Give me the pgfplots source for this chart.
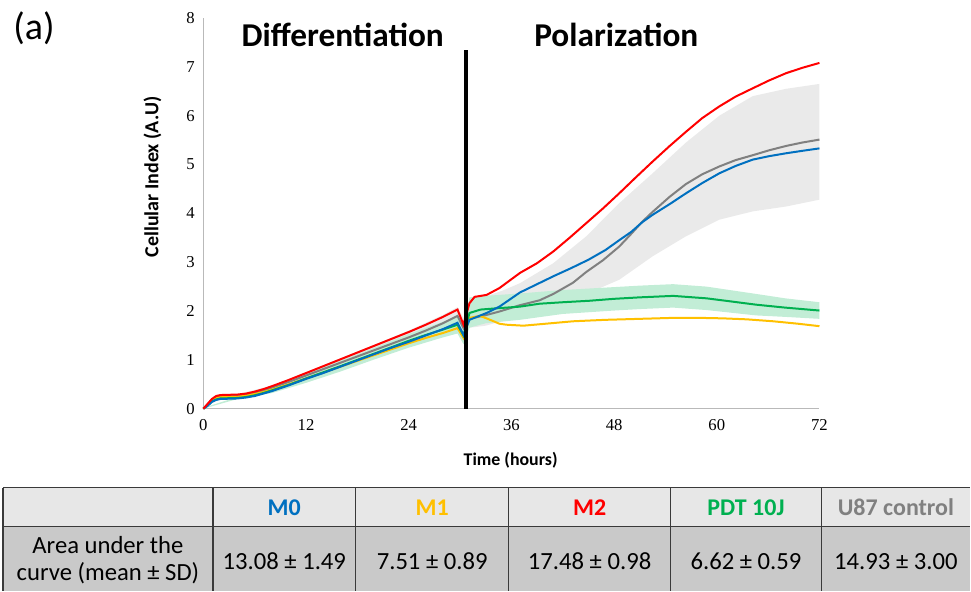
\documentclass[border=0pt]{standalone}
\usepackage{pgfplots}
\pgfplotsset{compat=1.18}
\usepgfplotslibrary{fillbetween}
\usepackage{fontspec}
\setmainfont{Carlito}
\newfontfamily\tnr{Liberation Serif}
\definecolor{cM0}{HTML}{0070C0}
\definecolor{cM1}{HTML}{FFC000}
\definecolor{cM2}{HTML}{FF0000}
\definecolor{cPDT}{HTML}{00B050}
\definecolor{cU87}{HTML}{808080}
\definecolor{gband}{HTML}{EAEAEA}
\definecolor{pband}{HTML}{C2EDD6}
\definecolor{hdr}{HTML}{E7E7E7}
\definecolor{bdy}{HTML}{C9C9C9}
\definecolor{tline}{HTML}{3A3A3A}
\begin{document}
\begin{tikzpicture}
\path (0,0) rectangle (728.25pt,443.25pt);
\begin{axis}[
  at={(152.625pt,136.5pt)}, anchor=south west,
  scale only axis, width=462.4pt, height=293.25pt,
  xmin=0, xmax=72, ymin=0, ymax=8,
  xtick={0,12,24,36,48,60,72}, ytick={0,1,2,3,4,5,6,7,8},
  major tick length=0pt,
  axis x line*=bottom, axis y line*=left,
  axis line style={draw=gray!55, line width=0.8pt, -},
  tick label style={font=\tnr\fontsize{12.5}{13}\selectfont},
  /pgf/number format/assume math mode=true,
  xticklabel style={yshift=-4.5pt},
  yticklabel style={xshift=-3pt},
  clip=false,
]
% U87 band
\addplot[name path=gu, draw=none, forget plot] coordinates {
(0,0.02) (2,0.28) (4,0.30) (8,0.47) (12,0.75) (16,1.03) (20,1.31) (24,1.60) (28,1.92) (29.7,2.08) (30.4,1.85) (30.8,2.05) (33,2.30) (35,2.42) (37,2.57) (40.9,2.98) (44.75,3.53) (48.6,4.21) (52.5,4.82) (56.4,5.45) (60.3,6.00) (64.2,6.40) (68.1,6.55) (72,6.65)};
\addplot[name path=gl, draw=none, forget plot] coordinates {
(0,0) (2,0.22) (4,0.22) (8,0.39) (12,0.61) (16,0.85) (20,1.09) (24,1.32) (28,1.58) (29.7,1.72) (30.4,1.45) (30.8,1.65) (33,1.70) (35,1.80) (37,1.90) (40.9,2.10) (44.75,2.35) (48.6,2.64) (52.5,3.12) (56.4,3.53) (60.3,3.87) (64.2,4.04) (68.1,4.14) (72,4.28)};
\addplot[fill=gband, draw=none, forget plot] fill between[of=gu and gl];
% PDT band
\addplot[name path=pu, draw=none, forget plot] coordinates {
(0,0.02) (4,0.24) (8,0.43) (12,0.71) (16,0.98) (20,1.25) (24,1.53) (28,1.78) (29.7,1.90) (30.4,1.70) (31.1,2.28) (33,2.31) (37,2.36) (42,2.43) (48,2.49) (51,2.52) (54.9,2.55) (58.8,2.50) (64.6,2.35) (68,2.26) (72,2.18)};
\addplot[name path=pl, draw=none, forget plot] coordinates {
(0,0) (4,0.20) (8,0.32) (12,0.53) (16,0.76) (20,1.01) (24,1.25) (28,1.46) (29.7,1.54) (30.4,1.32) (31.1,1.66) (33,1.75) (37,1.82) (42,1.94) (48,2.01) (51,2.04) (54.9,2.07) (58.8,2.02) (64.6,1.91) (68,1.88) (72,1.84)};
\addplot[fill=pband, draw=none, forget plot] fill between[of=pu and pl];
% U87 control
\addplot[cU87, line width=1.5pt] coordinates {
(0,0) (0.5,0.09) (1,0.18) (1.5,0.23) (2,0.25) (3,0.255) (4,0.26) (5,0.28) (6,0.32) (7,0.37) (8,0.43) (10,0.55) (12,0.68) (14,0.81) (16,0.94) (18,1.07) (20,1.20) (22,1.33) (24,1.46) (26,1.60) (28,1.75) (29.7,1.90) (30.4,1.65) (31.1,1.84) (33.1,1.92) (34.6,1.99) (37,2.12) (39.3,2.22) (40.9,2.35) (43.2,2.58) (44.75,2.80) (46.7,3.04) (48.6,3.32) (50,3.58) (51.3,3.83) (52.5,4.03) (54.5,4.34) (56.4,4.60) (58.3,4.80) (60.3,4.96) (62.2,5.09) (64.2,5.19) (66.1,5.29) (68.1,5.38) (70,5.45) (72,5.51)};
% M1
\addplot[cM1, line width=1.5pt] coordinates {
(0,0) (0.5,0.08) (1,0.17) (1.5,0.22) (2,0.235) (3,0.24) (4,0.245) (5,0.265) (6,0.30) (7,0.34) (8,0.39) (10,0.50) (12,0.62) (14,0.74) (16,0.86) (18,0.98) (20,1.10) (22,1.22) (24,1.34) (26,1.45) (28,1.55) (29.7,1.65) (30.4,1.45) (31.1,1.86) (32.3,1.90) (33.1,1.85) (34.6,1.74) (35.4,1.72) (37.4,1.70) (40,1.74) (43.2,1.79) (47,1.82) (51,1.84) (54.9,1.86) (58,1.86) (60.7,1.85) (63.5,1.83) (66.6,1.79) (69.5,1.74) (72,1.69)};
% PDT 10J
\addplot[cPDT, line width=1.5pt] coordinates {
(0,0) (0.5,0.07) (1,0.15) (1.5,0.19) (2,0.21) (3,0.215) (4,0.22) (5,0.24) (6,0.275) (7,0.32) (8,0.375) (10,0.49) (12,0.62) (14,0.745) (16,0.87) (18,1.0) (20,1.13) (22,1.26) (24,1.39) (26,1.51) (28,1.62) (29.7,1.72) (30.4,1.50) (31.1,1.96) (32.4,2.03) (34.6,2.06) (37,2.09) (39.3,2.15) (42,2.18) (45.1,2.21) (48,2.25) (51,2.28) (54.9,2.31) (58.8,2.26) (61.5,2.20) (64.6,2.13) (68,2.07) (72,2.01)};
% M0
\addplot[cM0, line width=1.5pt] coordinates {
(0,0) (0.5,0.06) (1,0.14) (1.5,0.18) (2,0.20) (3,0.205) (4,0.21) (5,0.23) (6,0.26) (7,0.31) (8,0.36) (10,0.48) (12,0.61) (14,0.73) (16,0.86) (18,0.99) (20,1.12) (22,1.25) (24,1.37) (26,1.50) (28,1.63) (29.7,1.76) (30.4,1.51) (31.1,1.82) (33.1,1.96) (34.6,2.09) (37,2.38) (39,2.55) (41,2.72) (43,2.88) (45,3.05) (47,3.25) (48.6,3.45) (50,3.62) (51.3,3.82) (52.5,3.97) (54.5,4.19) (56.4,4.41) (58.3,4.62) (60.3,4.82) (62.2,4.97) (64.2,5.10) (66.1,5.17) (68.1,5.23) (70,5.28) (72,5.33)};
% M2
\addplot[cM2, line width=1.5pt] coordinates {
(0,0) (0.5,0.10) (1,0.20) (1.5,0.26) (2,0.28) (3,0.285) (4,0.29) (5,0.31) (6,0.35) (7,0.40) (8,0.46) (10,0.59) (12,0.73) (14,0.87) (16,1.01) (18,1.15) (20,1.29) (22,1.43) (24,1.57) (26,1.72) (28,1.88) (29.7,2.03) (30.4,1.72) (31.1,2.16) (31.7,2.29) (33.1,2.33) (34.6,2.47) (37,2.78) (39,2.98) (40.9,3.22) (42.8,3.50) (44.75,3.80) (46.7,4.10) (48.6,4.41) (50.5,4.73) (52.5,5.06) (54.5,5.38) (56.4,5.67) (58.3,5.95) (60.3,6.19) (62.2,6.39) (64.2,6.56) (66.1,6.72) (68.1,6.87) (70,6.98) (72,7.08)};
% phase separator
\addplot[black, line width=3pt] coordinates {(30.75,0) (30.75,7.35)};
\end{axis}
\begin{scope}[x=0.75pt, y=0.75pt]
\node[font=\fontsize{28.5}{32}\selectfont, anchor=center] at (34,563) {(a)};
\node[font=\bfseries\fontsize{25}{29}\selectfont, anchor=base] at (343,544.3) {Differentiation};
\node[font=\bfseries\fontsize{25}{29}\selectfont, anchor=base] at (616.7,544.3) {Polarization};
\node[font=\bfseries\fontsize{13.4}{15}\selectfont, anchor=base] at (511,125.3) {Time (hours)};
\node[font=\bfseries\fontsize{15}{17}\selectfont, rotate=90, anchor=center] at (152.5,414) {Cellular Index (A.U)};
% table
\fill[hdr] (3,103) rectangle (971,64);
\fill[bdy] (3,64) rectangle (971,0);
\draw[tline, line width=1pt] (3,103) -- (971,103);
\draw[tline, line width=1pt] (3,64) -- (971,64);
\foreach \xx in {3,213,356,509,671,822} {\draw[tline, line width=1pt] (\xx,103) -- (\xx,0);}
\begin{scope}[every node/.style={anchor=base, font=\fontsize{18.5}{21}\selectfont}]
\node[font=\bfseries\fontsize{18}{21}\selectfont, text=cM0] at (284.5,75) {M0};
\node[font=\bfseries\fontsize{18}{21}\selectfont, text=cM1] at (432.5,75) {M1};
\node[font=\bfseries\fontsize{18}{21}\selectfont, text=cM2] at (590,75) {M2};
\node[font=\bfseries\fontsize{18}{21}\selectfont, text=cPDT] at (746.5,75) {PDT 10J};
\node[font=\bfseries\fontsize{18}{21}\selectfont, text=cU87] at (896.5,75) {U87 control};
\node at (108,37) {Area under the};
\node at (108,10.3) {curve (mean ± SD)};
\node at (284.5,21) {13.08 ± 1.49};
\node at (432.5,21) {7.51 ± 0.89};
\node at (590,21) {17.48 ± 0.98};
\node at (746.5,21) {6.62 ± 0.59};
\node at (896.5,21) {14.93 ± 3.00};
\end{scope}
\end{scope}
\end{tikzpicture}
\end{document}
